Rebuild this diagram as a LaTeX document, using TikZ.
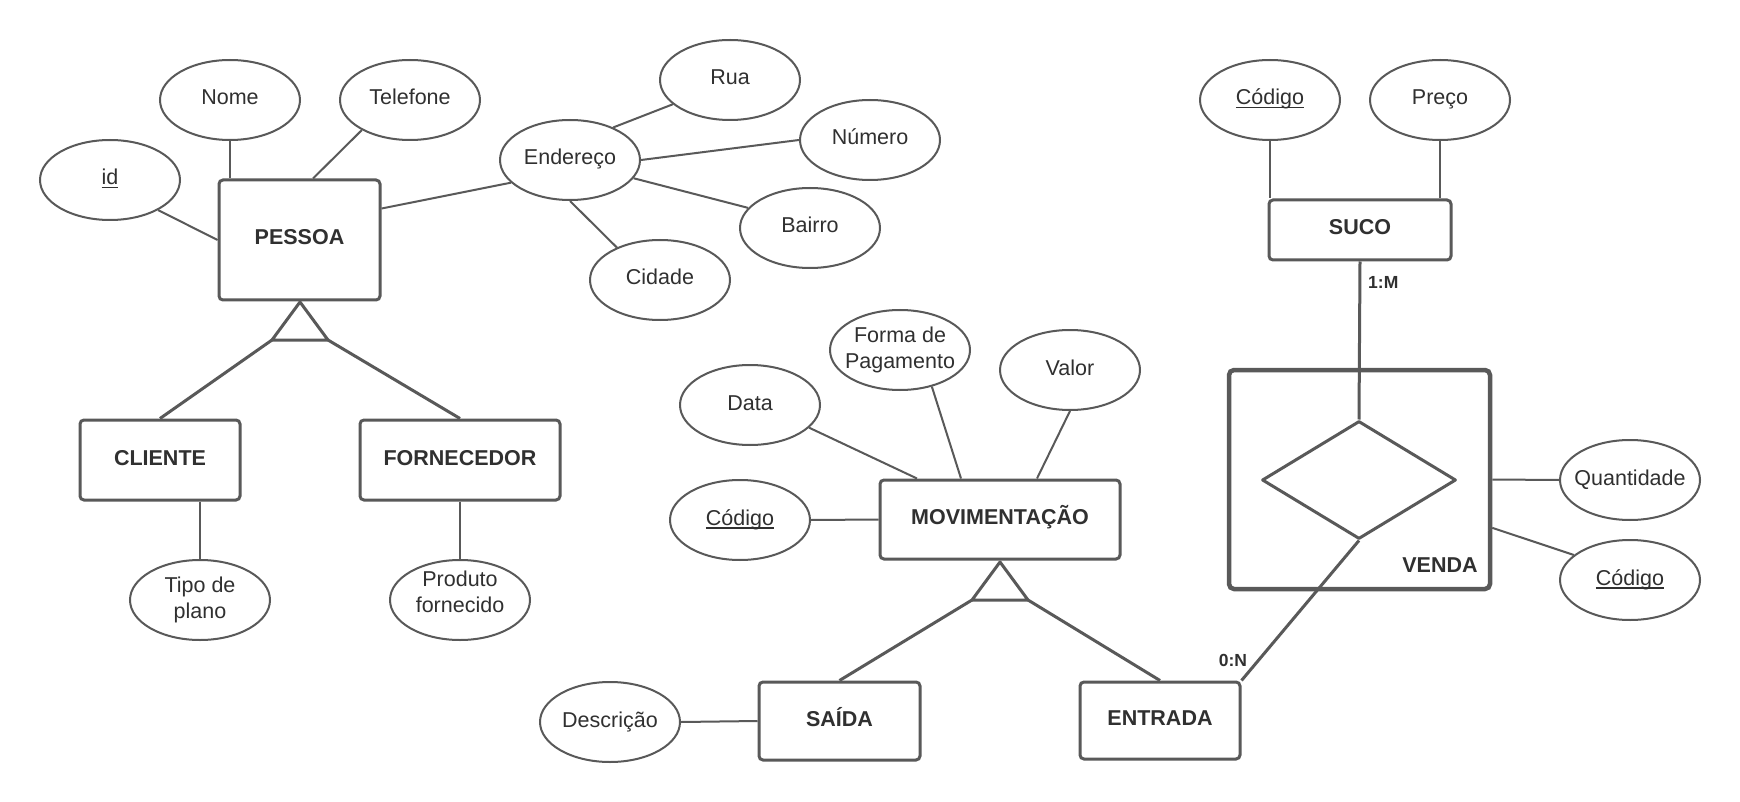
\documentclass[tikz,border=0pt]{standalone}
\usepackage{fontspec}
\setmainfont{Liberation Sans}
\usetikzlibrary{shapes.geometric}
\definecolor{ln}{HTML}{595959}
\definecolor{tx}{HTML}{303030}
\newcommand\undl[1]{\setbox0\hbox{#1}\rlap{\rule[-3.5pt]{\wd0}{1.6pt}}\box0}
\begin{document}
\begin{tikzpicture}[x=1pt,y=-1pt,
  every node/.style={font=\fontsize{21.5}{26.5}\selectfont, text=tx},
  attr/.style={ellipse, draw=ln, line width=2pt, minimum width=140pt, minimum height=80pt, inner sep=0pt},
  ent/.style={rectangle, draw=ln, line width=3pt, rounded corners=4pt, inner sep=0pt, font=\fontsize{21.5}{26.5}\selectfont\bfseries},
  one/.style={text height=15.5pt, text depth=5.5pt},
  multi/.style={align=center},
  conn/.style={draw=ln, line width=2pt},
  thk/.style={draw=ln, line width=3pt},
  card/.style={font=\fontsize{17.5}{20}\selectfont\bfseries, inner sep=0pt}
]
\fill[white] (0,0) rectangle (1740,802);
\useasboundingbox (0,0) rectangle (1740,802);

% ---- PESSOA group
\node[ent, one, minimum width=161pt, minimum height=120pt] (pessoa) at (299.5,240) {PESSOA};
\node[attr, one] (id) at (110,180) {\undl{id}};
\node[attr, one] (nome) at (230,100) {Nome};
\node[attr, one] (tel) at (410,100) {Telefone};
\node[attr, one] (end) at (570,160) {Endereço};
\node[attr, one] (rua) at (730,80) {Rua};
\node[attr, one] (num) at (870,140) {Número};
\node[attr, one] (bai) at (810,228) {Bairro};
\node[attr, one] (cid) at (660,280) {Cidade};
\node[ent, one, minimum width=160pt, minimum height=80pt] (cliente) at (160,460) {CLIENTE};
\node[ent, one, minimum width=200pt, minimum height=80pt] (forn) at (460,460) {FORNECEDOR};
\node[attr, multi] (tipo) at (200,600) {Tipo de\\plano};
\node[attr] (prod) at (460,600) {};
\node[multi, inner sep=0pt] (prodtxt) at (460,592) {Produto\\fornecido};

% ---- SUCO / VENDA
\node[ent, one, minimum width=182pt, minimum height=60pt] (suco) at (1360,230) {SUCO};
\node[attr, one] (cs) at (1270,100) {\undl{Código}};
\node[attr, one] (preco) at (1440,100) {Preço};
\node[draw=ln, line width=4.5pt, rounded corners=5pt, minimum width=261pt, minimum height=219pt, inner sep=0pt] (venda) at (1359.5,479.5) {};
\node[diamond, draw=ln, line width=3pt, minimum width=194pt, minimum height=118pt, inner sep=0pt, line join=round] (rel) at (1359,480) {};
\node[one, inner sep=0pt, font=\fontsize{21.5}{26.5}\selectfont\bfseries] (vendalbl) at (1440,567) {VENDA};
\node[attr, one] (quant) at (1630,480) {\makebox[0pt]{Quantidade}};
\node[attr, one] (cv) at (1630,580) {\undl{Código}};
\node[card, anchor=west] (c1m) at (1368,282) {1:M};
\node[card] (c0n) at (1233,660) {0:N};

% ---- MOVIMENTACAO
\node[ent, one, minimum width=240pt, minimum height=79pt] (mov) at (1000,519.5) {MOVIMENTAÇÃO};
\node[attr, one] (data) at (750,405) {Data};
\node[attr] (forma) at (900,350) {\makebox[0pt]{\begin{tabular}{@{}c@{}}Forma de\\Pagamento\end{tabular}}};
\node[attr, one] (valor) at (1070,370) {Valor};
\node[attr, one] (cm) at (740,520) {\undl{Código}};
\node[ent, one, minimum width=161pt, minimum height=78pt] (saida) at (839.5,721) {SAÍDA};
\node[ent, one, minimum width=160pt, minimum height=77pt] (entrada) at (1160,720.5) {ENTRADA};
\node[attr, one] (desc) at (610,722) {Descrição};

% ---- connectors: PESSOA
\draw[conn] (id.-32) -- (pessoa.west);
\draw[conn] (nome.south) -- (nome.south |- pessoa.north);
\draw[conn] (tel.212) -- ([xshift=13.5pt]pessoa.north);
\draw[conn] (pessoa.21.8) -- (end.201);
\draw[conn] (end.37) -- (rua.203);
\draw[conn] (end.east) -- (num.west);
\draw[conn] (end.-16) -- (bai.162);
\draw[conn] (end.south) -- (cid.143);
\coordinate (ga) at (300,302);
\coordinate (gl) at (272,340);
\coordinate (gr) at (328,340);
\draw[thk, line join=round] (ga) -- (gl) -- (gr) -- cycle;
\draw[thk] (gl) -- (cliente.north);
\draw[thk] (gr) -- (forn.north);
\draw[conn] (tipo.north |- cliente.south) -- (tipo.north);
\draw[conn] (forn.south) -- (prod.north);

% ---- connectors: SUCO / VENDA
\draw[conn] (cs.south) -- (cs.south |- suco.north);
\draw[conn] (preco.south) -- (preco.south |- suco.north);
\draw[thk] (suco.south) -- (rel.north);
\draw[thk] (rel.south) -- (entrada.north east);
\draw[conn] (venda.east) -- (quant.west);
\draw[conn] (venda.-20.8) -- (cv.156);

% ---- connectors: MOVIMENTACAO
\draw[conn] (data.-21) -- ([xshift=-83pt]mov.north);
\draw[conn] (forma.-49) -- ([xshift=-39pt]mov.north);
\draw[conn] (valor.south) -- ([xshift=37pt]mov.north);
\draw[conn] (cm.east) -- (mov.west);
\coordinate (ha) at (1000,562);
\coordinate (hl) at (972,600);
\coordinate (hr) at (1028,600);
\draw[thk, line join=round] (ha) -- (hl) -- (hr) -- cycle;
\draw[thk] (hl) -- (saida.north);
\draw[thk] (hr) -- (entrada.north);
\draw[conn] (desc.east) -- (saida.west);
\end{tikzpicture}
\end{document}
